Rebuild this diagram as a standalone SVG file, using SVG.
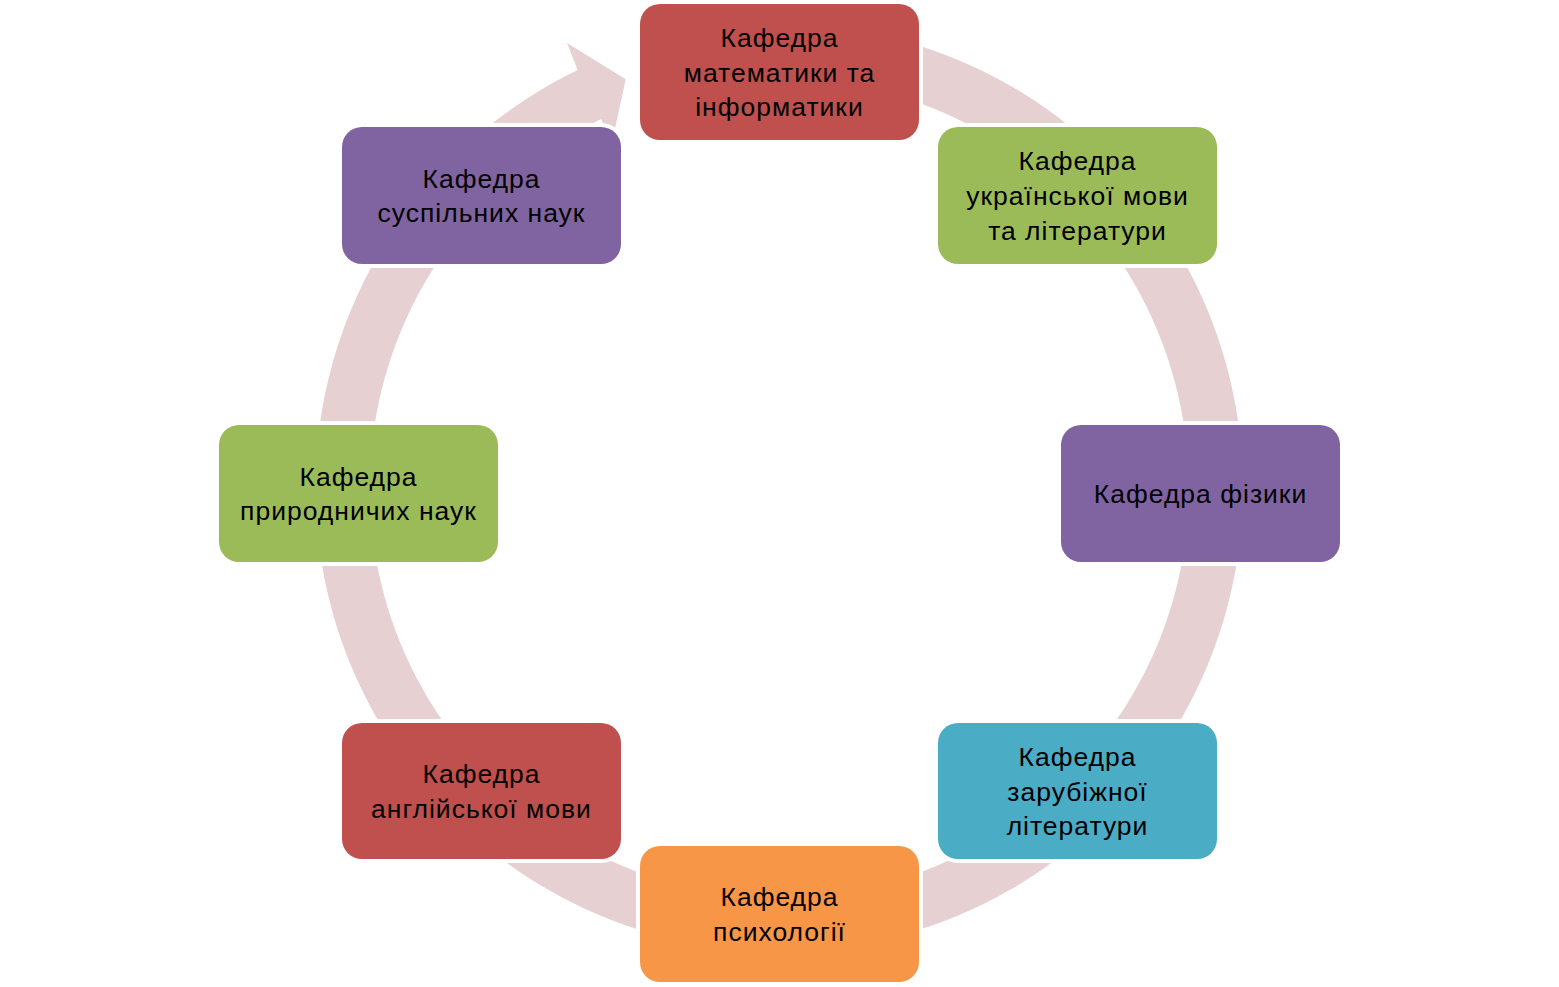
<svg xmlns="http://www.w3.org/2000/svg" width="1559" height="987" viewBox="0 0 1559 987">
<style>
.node{stroke:#FFFFFF;stroke-width:8;paint-order:stroke}
.red{fill:#C0504D}.green{fill:#9BBB59}.purple{fill:#8064A2}.teal{fill:#4BACC6}.orange{fill:#F79646}
text{font-family:"Liberation Sans",Arial,sans-serif;font-size:26.5px;letter-spacing:1px;fill:#000000;text-anchor:middle}
.ring{fill:#E7D0D1}
</style>
<rect width="1559" height="987" fill="#FFFFFF"/>
<g id="connectors">
<path class="ring" d="M 683.1 34.1 A 463.7 463.7 0 1 1 577.7 70.1 L 567 43 L 625.7 79.3 L 611 147 L 601.3 118.9 A 409.5 409.5 0 1 0 694.4 87.1 Z"/>
</g>
<g id="node1">
<rect class="node red" x="640" y="4" width="279" height="136" rx="20"/>
<text x="779.5" y="46.8">Кафедра</text>
<text x="779.5" y="81.5">математики та</text>
<text x="779.5" y="116.2">інформатики</text>
</g>
<g id="node2">
<rect class="node green" x="938" y="127" width="279" height="137" rx="20"/>
<text x="1077.5" y="170.3">Кафедра</text>
<text x="1077.5" y="205">української мови</text>
<text x="1077.5" y="239.7">та літератури</text>
</g>
<g id="node3">
<rect class="node purple" x="1061" y="425" width="279" height="137" rx="20"/>
<text x="1200.5" y="503">Кафедра фізики</text>
</g>
<g id="node4">
<rect class="node teal" x="938" y="723" width="279" height="136" rx="20"/>
<text x="1077.5" y="765.8">Кафедра</text>
<text x="1077.5" y="800.5">зарубіжної</text>
<text x="1077.5" y="835.2">літератури</text>
</g>
<g id="node5">
<rect class="node orange" x="640" y="846" width="279" height="136" rx="20"/>
<text x="779.5" y="906.2">Кафедра</text>
<text x="779.5" y="940.9">психології</text>
</g>
<g id="node6">
<rect class="node red" x="342" y="723" width="279" height="136" rx="20"/>
<text x="481.5" y="783.2">Кафедра</text>
<text x="481.5" y="817.8">англійської мови</text>
</g>
<g id="node7">
<rect class="node green" x="219" y="425" width="279" height="137" rx="20"/>
<text x="358.5" y="485.7">Кафедра</text>
<text x="358.5" y="520.4">природничих наук</text>
</g>
<g id="node8">
<rect class="node purple" x="342" y="127" width="279" height="137" rx="20"/>
<text x="481.5" y="187.7">Кафедра</text>
<text x="481.5" y="222.4">суспільних наук</text>
</g>
</svg>
